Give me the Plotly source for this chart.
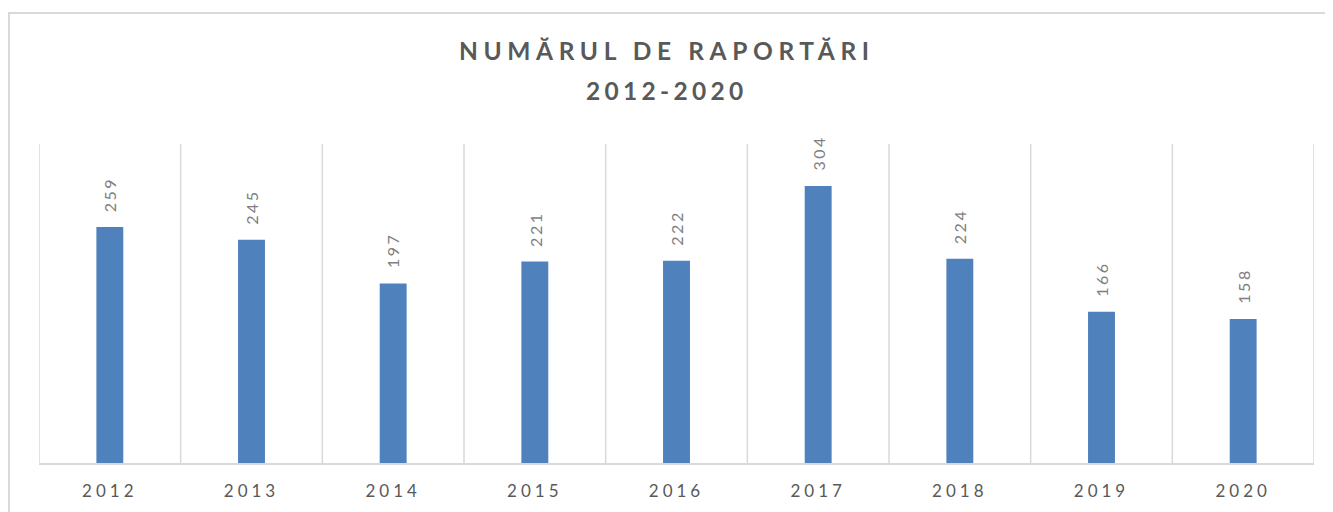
import plotly.graph_objects as go

years = ["2012", "2013", "2014", "2015", "2016", "2017", "2018", "2019", "2020"]
reports = [259, 245, 197, 221, 222, 304, 224, 166, 158]
title_line1 = "NUMĂRUL DE RAPORTĂRI"
title_line2 = "2012-2020"

FONT = "Lato, Open Sans, sans-serif"

def spaced(s, px):
    return f'<span style="letter-spacing:{px}px">{s}</span>'

fig = go.Figure(go.Bar(
    x=list(range(len(years))), y=reports,
    marker=dict(color="#4F81BD", line=dict(width=0)),
    width=0.19,
    hoverinfo="y",
))

for i, v in enumerate(reports):
    fig.add_annotation(
        x=i, y=v, xref="x", yref="y",
        text=spaced(str(v), 2.5),
        textangle=-90, showarrow=False,
        xanchor="center", yanchor="bottom", yshift=13,
        font=dict(family=FONT, size=16, color="#7f7f7f"),
    )

# Title lines (page y 50 and 90; plot bottom at 463, height 319)
for txt, sp, ypx in [(title_line1, 5.6, 50), (title_line2, 4.3, 90)]:
    fig.add_annotation(
        x=0.4925, y=(463 - ypx) / 319, xref="paper", yref="paper",
        text="<b>" + spaced(txt, sp) + "</b>", showarrow=False,
        xanchor="center", yanchor="middle",
        font=dict(family=FONT, size=24.5, color="#595959"),
    )

fig.update_layout(
    width=1325, height=504,
    margin=dict(l=31, r=19, t=136, b=49),
    paper_bgcolor="white", plot_bgcolor="white",
    showlegend=False,
    xaxis=dict(
        showgrid=False,
        showline=True, linecolor="#d9d9d9", linewidth=1.5,
        ticks="",
        tickvals=list(range(len(years))), ticktext=[spaced(y, 4) for y in years],
        tickfont=dict(family=FONT, size=17, color="#595959"),
        ticklabelstandoff=12,
        range=[-0.5, len(years) - 0.5],
        zeroline=False,
    ),
    yaxis=dict(range=[0, 350], showgrid=False, showticklabels=False, zeroline=False, ticks=""),
    shapes=[dict(
        type="rect", xref="paper", yref="paper",
        x0=(9 - 39) / 1275, x1=1.2, y0=-0.5, y1=(463 - 13) / 319,
        line=dict(color="#d9d9d9", width=2), fillcolor="rgba(0,0,0,0)", layer="below",
    )] + [dict(
        type="line", xref="x", yref="paper",
        x0=i - 0.5, x1=i - 0.5, y0=0, y1=1,
        line=dict(color="#d9d9d9", width=1.5), layer="below",
    ) for i in range(len(years) + 1)],
)

fig.write_html("out.html")
